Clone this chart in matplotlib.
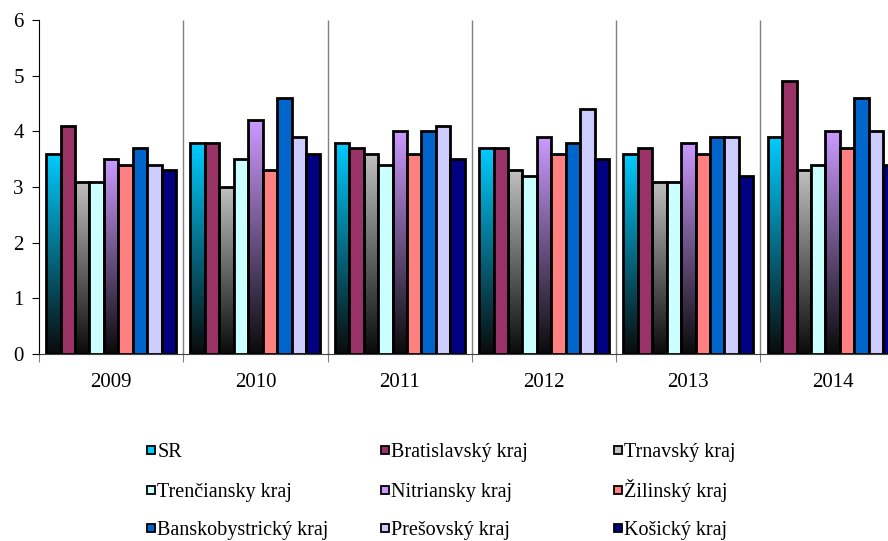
import numpy as np
import matplotlib.pyplot as plt
from matplotlib.colors import LinearSegmentedColormap
from matplotlib.patches import Rectangle

plt.rcParams['font.family'] = ['Liberation Serif', 'DejaVu Serif']

## Data ##
years = ['2009', '2010', '2011', '2012', '2013', '2014']
regions = ['SR', 'Bratislavský kraj', 'Trnavský kraj',
           'Trenčiansky kraj', 'Nitriansky kraj', 'Žilinský kraj',
           'Banskobystrický kraj', 'Prešovský kraj', 'Košický kraj']
sr = [3.6, 3.8, 3.8, 3.7, 3.6, 3.9]
bratislavsky = [4.1, 3.8, 3.7, 3.7, 3.7, 4.9]
trnavsky = [3.1, 3.0, 3.6, 3.3, 3.1, 3.3]
trenciansky = [3.1, 3.5, 3.4, 3.2, 3.1, 3.4]
nitriansky = [3.5, 4.2, 4.0, 3.9, 3.8, 4.0]
zilinsky = [3.4, 3.3, 3.6, 3.6, 3.6, 3.7]
banskobystricky = [3.7, 4.6, 4.0, 3.8, 3.9, 4.6]
presovsky = [3.4, 3.9, 4.1, 4.4, 3.9, 4.0]
kosicky = [3.3, 3.6, 3.5, 3.5, 3.2, 3.4]

series = [sr, bratislavsky, trnavsky, trenciansky, nitriansky,
          zilinsky, banskobystricky, presovsky, kosicky]
colors = ['#00CCFF', '#993366', '#C0C0C0', '#CCFFFF', '#CC99FF',
          '#FF8080', '#0066CC', '#CCCCFF', '#000080']
gradient = [True, False, True, False, True, False, False, False, False]

## Plotting ##
fig = plt.figure(figsize=(8.88, 5.41), dpi=100)
ax = fig.add_axes([0.0439, 0.3457, 0.975, 0.617])

x = np.arange(len(years))
width = 0.1
grad = np.linspace(0, 1, 256).reshape(-1, 1)

for i, vals in enumerate(series):
    pos = x - 0.4 + i * width
    if gradient[i]:
        bars = ax.bar(pos, vals, width=width, facecolor='none',
                      edgecolor='black', linewidth=2, zorder=3)
        cmap = LinearSegmentedColormap.from_list('g', ['#0a0a0a', colors[i]])
        for b in bars:
            x0 = b.get_x()
            im = ax.imshow(grad, extent=[x0, x0 + width, 0, b.get_height()],
                           origin='lower', aspect='auto', cmap=cmap, zorder=2)
            im.set_clip_path(b)
    else:
        ax.bar(pos, vals, width=width, color=colors[i],
               edgecolor='black', linewidth=2, zorder=3)

ax.vlines(np.arange(0.5, 5.5), 0, 6, color='#808080', linewidth=1, zorder=1)

ax.set_xlim(-0.5, 5.5)
ax.set_ylim(0, 6)
ax.set_yticks(range(7))
ax.set_xticks(np.arange(-0.5, 6.0))
ax.set_xticklabels([])
ax.set_xticks(x, minor=True)
ax.set_xticklabels(years, minor=True)
ax.tick_params(axis='x', which='major', length=6, color='#808080')
ax.tick_params(axis='x', which='minor', length=0, pad=14, labelsize=15)
ax.tick_params(axis='y', length=5, labelsize=15, pad=6)

for s in ['top', 'right']:
    ax.spines[s].set_visible(False)
ax.spines['bottom'].set_color('#404040')

# legend, three per row
col_x = [0.166, 0.429, 0.692]
row_y = [0.168, 0.094, 0.024]
for i, name in enumerate(regions):
    r, c = divmod(i, 3)
    fig.patches.append(Rectangle((col_x[c], row_y[r] - 0.0075), 0.009, 0.015,
                                 facecolor=colors[i], edgecolor='black',
                                 linewidth=1.3, transform=fig.transFigure))
    fig.text(col_x[c] + 0.011, row_y[r] - 0.0135, name, fontsize=14.5,
             va='baseline')

fig.savefig('out.png', dpi=100)
